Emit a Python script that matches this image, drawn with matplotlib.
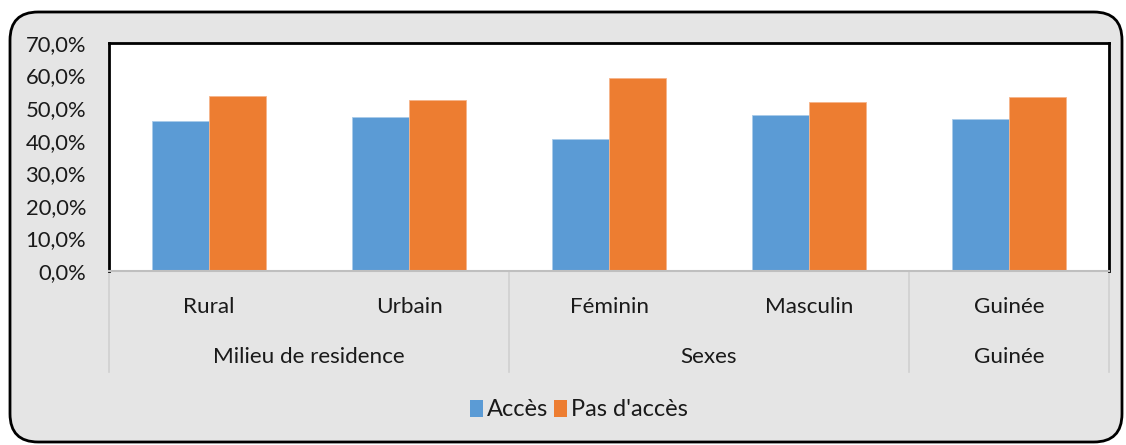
import matplotlib
matplotlib.use("Agg")
import matplotlib.pyplot as plt
from matplotlib.patches import FancyBboxPatch, Patch
from matplotlib.ticker import FuncFormatter, MultipleLocator

plt.rcParams['font.family'] = ['Lato', 'DejaVu Sans']

categories = ["Rural", "Urbain", "Féminin", "Masculin", "Guinée"]
groups = ["Milieu de residence", "Sexes", "Guinée"]
group_sizes = [2, 2, 1]
series_names = ["Accès", "Pas d'accès"]
acces = [46.0, 47.2, 40.6, 47.9, 46.6]
pas_acces = [53.7, 52.5, 59.2, 51.8, 53.3]
colors = ["#5B9BD5", "#ED7D31"]

W, H = 1126, 445
fig = plt.figure(figsize=(W / 100, H / 100), dpi=100, facecolor="white")

# chart background with rounded border
bg = FancyBboxPatch((10 / W, 3 / H), 1112 / W, 430 / H,
                    boxstyle="round,pad=0,rounding_size=0.025",
                    transform=fig.transFigure, facecolor="#E5E5E5",
                    edgecolor="black", linewidth=2, mutation_aspect=W / H,
                    zorder=-10)
fig.patches.append(bg)

ax = fig.add_axes([109 / W, 1 - 271 / H, 1000 / W, 228 / H])
ax.set_zorder(5)
ax.set_facecolor("white")

x = list(range(len(categories)))
w = 1 / 3.5
ax.bar([i - w / 2 for i in x], acces, width=w, color=colors[0],
       edgecolor="#A9CBEA", linewidth=0.6, label=series_names[0])
ax.bar([i + w / 2 for i in x], pas_acces, width=w, color=colors[1],
       edgecolor="#F5B48A", linewidth=0.6, label=series_names[1])

ax.set_xlim(-0.5, len(categories) - 0.5)
ax.set_ylim(0, 70)
ax.yaxis.set_major_locator(MultipleLocator(10))
ax.yaxis.set_major_formatter(FuncFormatter(lambda v, p: f"{v:.1f}%".replace(".", ",")))
ax.tick_params(axis="y", length=0, pad=16.5, labelsize=15.8, labelcolor="#1a1a1a")
ax.set_xticks([])

for s in ["top", "left", "right"]:
    ax.spines[s].set_color("black")
    ax.spines[s].set_linewidth(2)
ax.spines["bottom"].set_color("#BFBFBF")
ax.spines["bottom"].set_linewidth(1.5)

# category axis labels & separators
tr = ax.get_xaxis_transform()
for i, c in enumerate(categories):
    ax.text(i, -0.158, c, transform=tr, ha="center", va="center",
            fontsize=16.2, color="#1a1a1a", clip_on=False)
start = -0.5
bounds = [start]
for gname, n in zip(groups, group_sizes):
    end = start + n
    ax.text((start + end) / 2, -0.378, gname, transform=tr, ha="center",
            va="center", fontsize=16.2, color="#1a1a1a", clip_on=False)
    bounds.append(end)
    start = end
for b in bounds:
    ax.plot([b, b], [0, -0.445], transform=tr, color="#D0D0D0",
            linewidth=1.2, clip_on=False)

handles = [Patch(facecolor=colors[0], edgecolor="none"),
           Patch(facecolor=colors[1], edgecolor="none")]
fig.legend(handles, series_names, loc="center", bbox_to_anchor=(579 / W, 1 - 410 / H),
           ncol=2, frameon=False, fontsize=17, handlelength=0.55,
           handleheight=0.7, handletextpad=0.15, columnspacing=0.25,
           labelcolor="#1a1a1a")

fig.savefig("out.png", dpi=100, facecolor="white")
